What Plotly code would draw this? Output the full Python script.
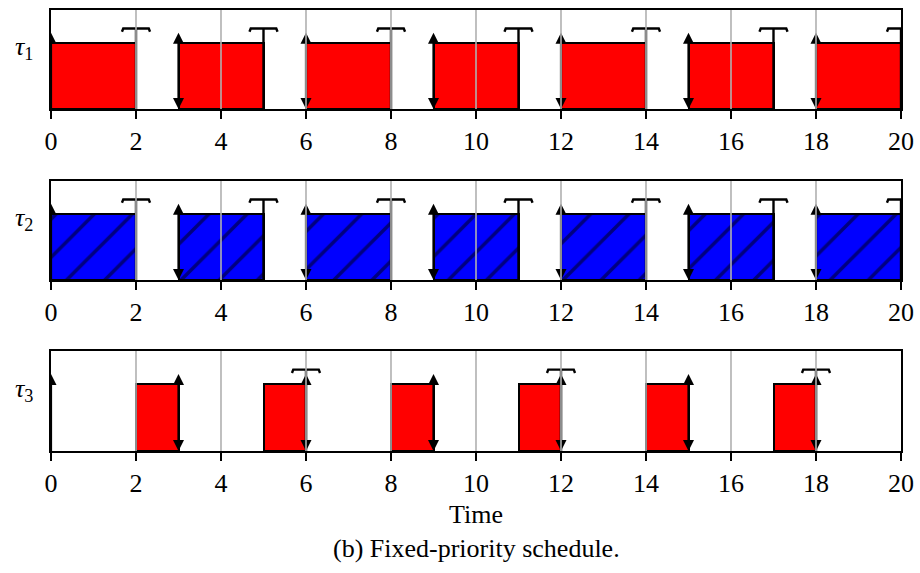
import plotly.graph_objects as go

# ---- data ----
tau1_start = [0, 3, 6, 9, 12, 15, 18]
tau1_end = [2, 5, 8, 11, 14, 17, 20]
tau2_start = [0, 3, 6, 9, 12, 15, 18]
tau2_end = [2, 5, 8, 11, 14, 17, 20]
tau3_start = [2, 5, 8, 11, 14, 17]
tau3_end = [3, 6, 9, 12, 15, 18]

releases1 = [0, 3, 6, 9, 12, 15, 18]
deadlines1 = [3, 6, 9, 12, 15, 18]
releases2 = [0, 3, 6, 9, 12, 15, 18]
deadlines2 = [3, 6, 9, 12, 15, 18]
releases3 = [0, 3, 6, 9, 12, 15, 18]
deadlines3 = [3, 6, 9, 12, 15, 18]

brackets1 = [2, 5, 8, 11, 14, 17, 20]
brackets2 = [2, 5, 8, 11, 14, 17, 20]
brackets3 = [6, 12, 18]

task_labels = ["<i>τ</i><sub>1</sub>", "<i>τ</i><sub>2</sub>", "<i>τ</i><sub>3</sub>"]
x_ticks = [0, 2, 4, 6, 8, 10, 12, 14, 16, 18, 20]
grid_ticks = [2, 4, 6, 8, 10, 12, 14, 16, 18]

BAR_H = 1.0
ARROW_TOP = 1.155
BRACKET_Y = 1.22
BRACKET_HALF = 0.33

SERIF = "Times New Roman, Liberation Serif, DejaVu Serif, serif"

fig = go.Figure()

tasks = [
    (tau1_start, tau1_end, releases1, deadlines1, brackets1, "#ff0000", None),
    (tau2_start, tau2_end, releases2, deadlines2, brackets2, "#0000ff", "/"),
    (tau3_start, tau3_end, releases3, deadlines3, brackets3, "#ff0000", None),
]

for i, (st, en, rel, dl, br, col, pat) in enumerate(tasks):
    xa = "x" if i == 0 else f"x{i+1}"
    ya = "y" if i == 0 else f"y{i+1}"
    centers = [(a + b) / 2 for a, b in zip(st, en)]
    widths = [b - a for a, b in zip(st, en)]
    marker = dict(color=col, line=dict(color="black", width=2))
    if pat:
        marker["pattern"] = dict(shape=pat, fgcolor="black", bgcolor=col,
                                 size=27, solidity=0.13, fillmode="overlay")
    fig.add_trace(go.Bar(x=centers, y=[BAR_H] * len(st), width=widths, base=0,
                         marker=marker, xaxis=xa, yaxis=ya, showlegend=False,
                         hoverinfo="skip"))

    # vertical completion lines + brackets
    lx, ly = [], []
    for c in br:
        lx += [c, c, None]
        ly += [0, BRACKET_Y, None]
        lx += [c - BRACKET_HALF, c - BRACKET_HALF + 0.03, c + BRACKET_HALF - 0.03, c + BRACKET_HALF, None]
        ly += [BRACKET_Y - 0.05, BRACKET_Y, BRACKET_Y, BRACKET_Y - 0.05, None]
    fig.add_trace(go.Scatter(x=lx, y=ly, mode="lines", line=dict(color="black", width=2.4),
                             xaxis=xa, yaxis=ya, showlegend=False, hoverinfo="skip",
                             cliponaxis=True))

    # arrow shafts
    ax_, ay_ = [], []
    for r in rel:
        ax_ += [r, r, None]
        ay_ += [0.08 if r in dl else 0.0, ARROW_TOP - 0.08, None]
    fig.add_trace(go.Scatter(x=ax_, y=ay_, mode="lines", line=dict(color="black", width=2.2),
                             xaxis=xa, yaxis=ya, showlegend=False, hoverinfo="skip"))
    # arrow heads
    fig.add_trace(go.Scatter(x=rel, y=[ARROW_TOP] * len(rel), mode="markers",
                             marker=dict(symbol="arrow-up", size=11, color="black",
                                         line=dict(width=0)),
                             xaxis=xa, yaxis=ya, showlegend=False, hoverinfo="skip",
                             cliponaxis=True))
    fig.add_trace(go.Scatter(x=dl, y=[0] * len(dl), mode="markers",
                             marker=dict(symbol="arrow-down", size=11, color="black",
                                         line=dict(width=0)),
                             xaxis=xa, yaxis=ya, showlegend=False, hoverinfo="skip",
                             cliponaxis=True))

domains = [[0.7755, 1.0], [0.3878, 0.6122], [0.0, 0.2268]]
axis_common = dict(range=[0, 20], tickvals=x_ticks, ticktext=[str(t) for t in x_ticks],
                   ticks="outside", ticklen=8, tickwidth=1.6, tickcolor="black",
                   showline=True, linecolor="black", linewidth=2, mirror=True,
                   showgrid=False, zeroline=False,
                   tickfont=dict(family=SERIF, size=26, color="black"))
yaxis_common = dict(range=[0, 1.5], showticklabels=False, ticks="", showline=True,
                    linecolor="black", linewidth=2, mirror=True, showgrid=False,
                    zeroline=False)

layout = dict(
    width=920, height=573,
    margin=dict(l=51, r=19, t=10, b=122, autoexpand=False),
    plot_bgcolor="white", paper_bgcolor="white",
    barmode="overlay", bargap=0,
)
for i in range(3):
    sx = "" if i == 0 else str(i + 1)
    layout[f"xaxis{sx}"] = dict(axis_common, anchor=f"y{sx}")
    layout[f"yaxis{sx}"] = dict(yaxis_common, domain=domains[i], anchor=f"x{sx}")
fig.update_layout(**layout)

# gridlines drawn above the bars
shapes = []
for i in range(3):
    sx = "" if i == 0 else str(i + 1)
    for g in grid_ticks:
        shapes.append(dict(type="line", xref=f"x{sx}", yref=f"y{sx} domain",
                           x0=g, x1=g, y0=0, y1=1, layer="above",
                           line=dict(color="#b0b0b0", width=1.6)))
fig.update_layout(shapes=shapes)

annotations = []
for i in range(3):
    sx = "" if i == 0 else str(i + 1)
    annotations.append(dict(text=task_labels[i], xref="paper", yref=f"y{sx}",
                            x=-0.019, y=0.92, xanchor="right", yanchor="middle",
                            showarrow=False,
                            font=dict(family=SERIF, size=26, color="black")))
annotations.append(dict(text="Time", xref="paper", yref="paper", x=0.5, y=-0.143,
                        xanchor="center", yanchor="middle", showarrow=False,
                        font=dict(family=SERIF, size=26, color="black")))
annotations.append(dict(text="(b) Fixed-priority schedule.", xref="paper", yref="paper",
                        x=0.5, y=-0.222, xanchor="center", yanchor="middle",
                        showarrow=False,
                        font=dict(family=SERIF, size=26, color="black")))
fig.update_layout(annotations=annotations)

fig.write_html("out.html", config={"displayModeBar": False},
               post_script="document.body.style.margin='0';")
